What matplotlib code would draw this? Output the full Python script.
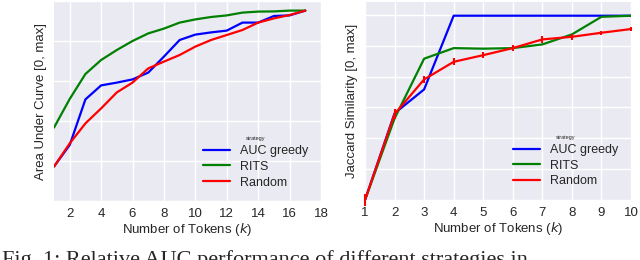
import matplotlib
matplotlib.use("Agg")
import matplotlib.pyplot as plt
import seaborn as sns

sns.set_style("darkgrid")
plt.rcParams['font.family'] = ['Liberation Sans', 'DejaVu Sans']

# left panel: area under curve vs number of tokens
k_auc = list(range(1, 18))
auc_greedy = [0.172, 0.28, 0.508, 0.578, 0.592, 0.608, 0.642, 0.722, 0.805,
              0.832, 0.843, 0.852, 0.892, 0.892, 0.925, 0.928, 0.952]
auc_rits = [0.367, 0.51, 0.635, 0.705, 0.755, 0.80, 0.838, 0.862, 0.892,
            0.908, 0.92, 0.928, 0.942, 0.947, 0.948, 0.952, 0.952]
auc_random = [0.172, 0.288, 0.388, 0.463, 0.543, 0.592, 0.663, 0.697, 0.73,
              0.772, 0.805, 0.83, 0.855, 0.892, 0.913, 0.93, 0.952]

# right panel: jaccard similarity vs number of tokens
k_jac = list(range(1, 11))
jac_greedy = [0.0, 0.468, 0.597, 0.995, 0.995, 0.995, 0.995, 0.995, 0.995, 0.995]
jac_rits = [0.0, 0.44, 0.763, 0.82, 0.817, 0.82, 0.84, 0.894, 0.989, 0.995]
jac_random = [0.0, 0.464, 0.651, 0.746, 0.782, 0.82, 0.867, 0.881, 0.903, 0.923]
jac_random_err = [0.03, 0.025, 0.018, 0.018, 0.018, 0.015, 0.018, 0.015, 0.012, 0.012]

labels = ["AUC greedy", "RITS", "Random"]
colors = ["#0000ff", "#008000", "#ff0000"]

fig = plt.figure(figsize=(6.4, 2.6), dpi=100)
ax1 = fig.add_axes([54 / 640, 59 / 260, 267 / 640, 200 / 260])
ax2 = fig.add_axes([365 / 640, 60 / 260, 266 / 640, 198 / 260])

for ys, lab, c in zip([auc_greedy, auc_rits, auc_random], labels, colors):
    ax1.plot(k_auc, ys, color=c, lw=1.6, label=lab)

ax2.plot(k_jac, jac_greedy, color=colors[0], lw=1.6, label=labels[0])
ax2.plot(k_jac, jac_rits, color=colors[1], lw=1.6, label=labels[1])
ax2.plot(k_jac, jac_random, color=colors[2], lw=1.6, label=labels[2])
ax2.errorbar(k_jac, jac_random, yerr=jac_random_err, fmt="none",
             ecolor=colors[2], elinewidth=1.5, capsize=0, clip_on=False)

ax1.set_xlim(1, 18)
ax1.set_ylim(0, 1)
ax1.set_xticks(range(2, 19, 2))
ax1.set_yticks([0, 0.2, 0.4, 0.6, 0.8, 1.0])
ax1.set_ylabel("Area Under Curve [0, max]", fontsize=9.5, color="#262626", labelpad=5)

ax2.set_xlim(1, 10)
ax2.set_ylim(0, 1.069)
ax2.set_xticks(range(1, 11))
ax2.set_yticks([i / 6 for i in range(7)])
ax2.set_ylabel("Jaccard Similarity [0, max]", fontsize=9.5, color="#262626", labelpad=5)

for ax in (ax1, ax2):
    ax.set_xlabel("Number of Tokens ($k$)", fontsize=9.5, color="#262626", labelpad=1)
    ax.tick_params(axis="x", length=0, pad=5, labelsize=9.5, colors="#262626")
    ax.tick_params(axis="y", length=0, labelleft=False)
    ax.grid(True, color="white", lw=1)
    for s in ax.spines.values():
        s.set_visible(False)
    leg = ax.legend(title="strategy", loc="lower right", fontsize=9,
                    frameon=False, handlelength=2.2, labelspacing=0.3,
                    borderaxespad=0.6)
    leg.get_title().set_fontsize(4)

fig.text(0.003, 1 - 250 / 260, "Fig. 1: Relative AUC performance of different strategies in",
         family=["Liberation Serif", "DejaVu Serif"], fontsize=16, va="top")

fig.savefig("out.png", dpi=100)
